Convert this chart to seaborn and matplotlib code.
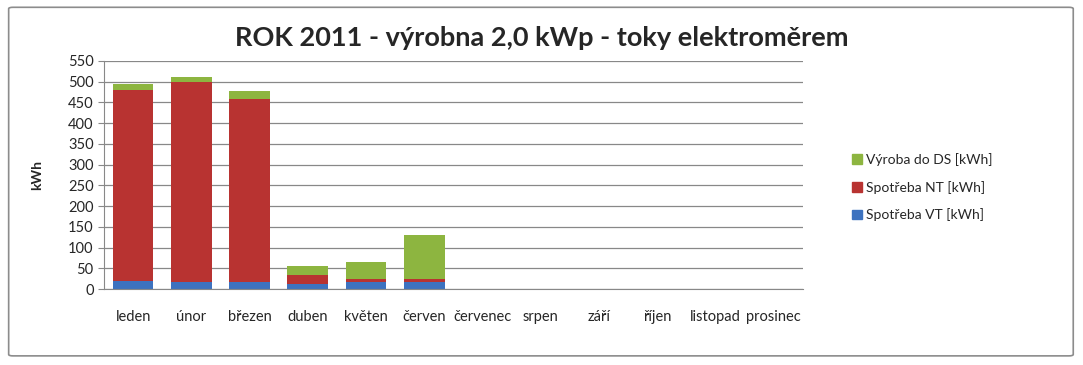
import matplotlib
matplotlib.use("Agg")
import matplotlib.pyplot as plt
from matplotlib.patches import FancyBboxPatch, Patch
import seaborn as sns
import pandas as pd
import numpy as np

months = ["leden", "únor", "březen", "duben", "květen", "červen",
          "červenec", "srpen", "září", "říjen", "listopad", "prosinec"]
spotreba_vt = [19, 16, 16, 13, 16, 16, 0, 0, 0, 0, 0, 0]
spotreba_nt = [461, 483, 443, 21, 9, 9, 0, 0, 0, 0, 0, 0]
vyroba_ds = [15, 12, 18, 22, 40, 106, 0, 0, 0, 0, 0, 0]

df = pd.DataFrame({"month": months, "vt": spotreba_vt, "nt": spotreba_nt, "ds": vyroba_ds})
df["vt_nt"] = df["vt"] + df["nt"]
df["total"] = df["vt_nt"] + df["ds"]

sns.set_style("white")
plt.rcParams["font.family"] = ["Lato", "DejaVu Sans"]

c_green = "#8db540"
c_red = "#b83331"
c_blue = "#3d72bf"

fig = plt.figure(figsize=(10.83, 3.65), dpi=100)
ax = fig.add_axes([0.096, 0.208, 0.645, 0.625])

# stacked bars drawn as overlaid cumulative totals
for col, c in [("total", c_green), ("vt_nt", c_red), ("vt", c_blue)]:
    sns.barplot(data=df, x="month", y=col, color=c, width=0.7, ax=ax,
                saturation=1, linewidth=0, edgecolor="none")

ax.set_ylim(0, 550)
ax.set_xlim(-0.5, 11.5)
ax.set_yticks(np.arange(0, 551, 50))
ax.yaxis.grid(True, color="#888888", linewidth=0.9)
ax.set_axisbelow(True)
for s in ["top", "right"]:
    ax.spines[s].set_visible(False)
ax.spines["left"].set_color("#888888")
ax.spines["bottom"].set_color("#888888")

ax.set_xticks(np.arange(-0.5, 12, 1), minor=False)
ax.set_xticklabels([])
ax.set_xticks(np.arange(12), minor=True)
ax.set_xticklabels(months, minor=True, fontsize=10.5)
ax.tick_params(axis="x", which="major", length=5, color="#888888", direction="out")
ax.tick_params(axis="x", which="minor", length=0, pad=15)
ax.tick_params(axis="y", length=4, color="#888888", labelsize=10.5, direction="out", left=True)

ax.set_xlabel("")
ax.set_ylabel("kWh", fontsize=10, fontweight="bold", labelpad=18)

fig.text(0.5, 0.895, "ROK 2011 - výrobna 2,0 kWp - toky elektroměrem",
         ha="center", va="center", fontsize=19.5, fontweight="bold")

handles = [Patch(color=c_green, label="Výroba do DS [kWh]"),
           Patch(color=c_red, label="Spotřeba NT [kWh]"),
           Patch(color=c_blue, label="Spotřeba VT [kWh]")]
fig.legend(handles=handles, loc="center left", bbox_to_anchor=(0.775, 0.487),
           frameon=False, fontsize=10, handlelength=0.7, handleheight=0.7,
           handletextpad=0.3, labelspacing=1.05)

frame = FancyBboxPatch((0.008, 0.025), 0.983, 0.955, boxstyle="round,pad=0,rounding_size=0.004",
                       transform=fig.transFigure, fill=False, edgecolor="#8c8c8c", linewidth=1.2)
fig.patches.append(frame)

fig.savefig("out.png", dpi=100, facecolor="white")
